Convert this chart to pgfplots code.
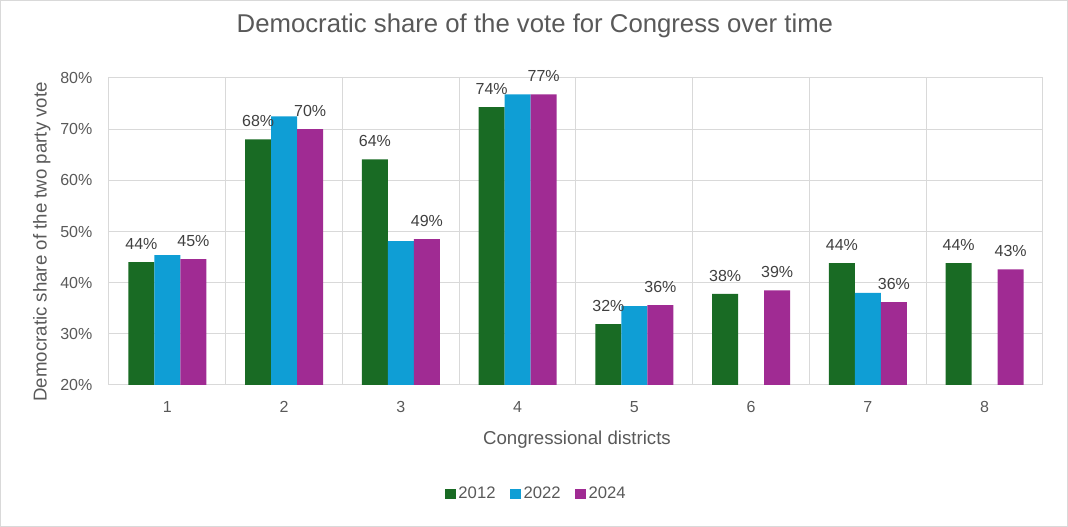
\documentclass[border=0pt]{standalone}
\usepackage{pgfplots}
\pgfplotsset{compat=1.18}
\usepackage{fontspec}
\setmainfont{Liberation Sans}
\definecolor{cgreen}{HTML}{196B24}
\definecolor{cblue}{HTML}{0F9ED5}
\definecolor{cpurple}{HTML}{A02B93}
\definecolor{gridgray}{HTML}{D9D9D9}
\definecolor{txtgray}{HTML}{595959}
\definecolor{lblgray}{HTML}{404040}
\begin{document}
\begin{tikzpicture}
% chart area: 1px = 0.75pt
\useasboundingbox (-81.75pt,-106.5pt) rectangle (719.25pt,288.75pt);
\draw[gridgray,line width=0.75pt] (-81.35pt,-106.1pt) rectangle (718.85pt,288.35pt);
\begin{axis}[
    scale only axis,
    width=700.5pt, height=230.25pt,
    at={(0,0)}, anchor=south west,
    ybar=0pt,
    bar width=19.5pt,
    xmin=0.5, xmax=8.5,
    ymin=20, ymax=80,
    xtick={1,...,8},
    minor xtick={1.5,2.5,...,7.5},
    ytick={20,30,...,80},
    yticklabel={\pgfmathprintnumber{\tick}\%},
    /pgf/number format/assume math mode=true,
    major tick length=0pt, minor tick length=0pt,
    ymajorgrids, xminorgrids,
    grid style={gridgray,line width=0.75pt},
    minor grid style={gridgray,line width=0.75pt},
    axis line style={gridgray,line width=0.75pt},
    tick label style={font=\fontsize{12}{14}\selectfont,text=txtgray},
    yticklabel style={xshift=-9pt},
    xticklabel style={yshift=-9pt},
    title={Democratic share of the vote for Congress over time},
    title style={font=\fontsize{19.3}{22}\selectfont,text=txtgray,at={(axis description cs:0.456,1.143)},anchor=center},
    xlabel={Congressional districts},
    xlabel style={font=\fontsize{14}{16}\selectfont,text=txtgray,at={(axis description cs:0.501,-0.179)},anchor=center},
    ylabel={Democratic share of the two party vote},
    ylabel style={font=\fontsize{14}{16}\selectfont,text=txtgray,at={(axis description cs:-0.072,0.466)},anchor=center},
    legend style={at={(axis description cs:0.458,-0.355)},anchor=center,draw=none,
        legend columns=3,font=\fontsize{12.5}{14}\selectfont,text=txtgray,
        /tikz/every even column/.append style={column sep=9pt}},
    legend image code/.code={\fill[#1] (0pt,-4pt) rectangle (8pt,4pt);},
    nodes near coords style={font=\fontsize{12}{14}\selectfont,text=lblgray,yshift=6pt},
]
\addplot[fill=cgreen,draw=none,
    nodes near coords={\pgfmathprintnumber[fixed,precision=0]{\pgfplotspointmeta}\%}]
    coordinates {(1,44.0) (2,68.0) (3,64.1) (4,74.3) (5,31.9) (6,37.8) (7,43.8) (8,43.8)};
\addplot[fill=cblue,draw=none]
    coordinates {(1,45.4) (2,72.5) (3,48.1) (4,76.8) (5,35.4) (7,38.0)};
\addplot[fill=cpurple,draw=none,
    nodes near coords={\pgfmathprintnumber[fixed,precision=0]{\pgfplotspointmeta}\%}]
    coordinates {(1,44.6) (2,70.0) (3,48.5) (4,76.8) (5,35.6) (6,38.5) (7,36.2) (8,42.6)};
\legend{2012,2022,2024}
\end{axis}
\end{tikzpicture}
\end{document}
